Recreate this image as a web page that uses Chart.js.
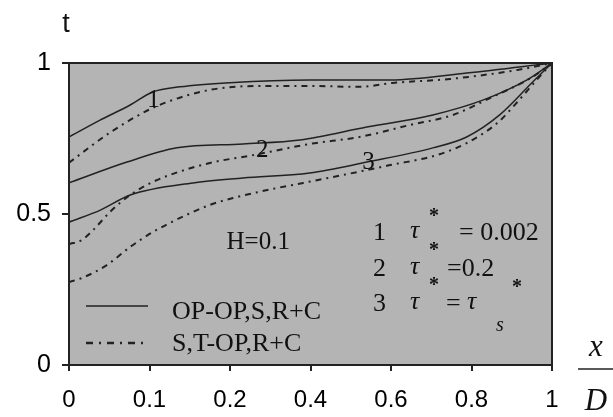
<!DOCTYPE html>
<html>
<head>
<meta charset="utf-8">
<script src="https://cdn.jsdelivr.net/npm/chart.js@4/dist/chart.umd.min.js"></script>
<style>
  html, body { margin: 0; padding: 0; background: #fff; }
  #wrap { width: 613px; height: 417px; position: relative; }
</style>
</head>
<body>
<div id="wrap"><canvas id="tChart" width="613" height="417"></canvas></div>
<script>
// tick labels sit at equal spacing on the original axis (0..6 positions)
const xTickLabels = ['0', '0.1', '0.2', '0.4', '0.6', '0.8', '1'];
const yTickValues = [0, 0.5, 1];

// curve 1, tau* = 0.002
const x1Solid = [0, 0.38, 0.76, 1.04, 1.38, 2.0, 2.99, 3.99, 4.94, 6];
const t1Solid = [0.755, 0.81, 0.861, 0.904, 0.921, 0.935, 0.944, 0.944, 0.967, 1.0];
const x1Dash = [0, 0.5, 0.94, 1.22, 1.75, 2.37, 2.99, 3.61, 4.02, 4.73, 5.57, 6];
const t1Dash = [0.67, 0.768, 0.838, 0.871, 0.911, 0.924, 0.924, 0.921, 0.934, 0.947, 0.977, 1.0];

// curve 2, tau* = 0.2
const x2Solid = [0, 0.72, 1.34, 2.16, 2.87, 3.70, 4.52, 5.14, 5.69, 6];
const t2Solid = [0.603, 0.672, 0.719, 0.732, 0.745, 0.788, 0.828, 0.877, 0.944, 1.0];
const x2Dash = [0, 0.16, 0.3, 0.51, 0.76, 1.04, 1.25, 1.75, 2.29, 2.99, 3.61, 4.24, 4.77, 5.23, 5.76, 6];
const t2Dash = [0.40, 0.414, 0.447, 0.507, 0.563, 0.606, 0.629, 0.669, 0.695, 0.732, 0.755, 0.795, 0.828, 0.884, 0.954, 1.0];

// curve 3, tau* = tau*_s
const x3Solid = [0, 0.39, 0.76, 1.54, 2.16, 2.99, 3.70, 4.52, 4.94, 5.35, 5.76, 6];
const t3Solid = [0.473, 0.513, 0.563, 0.603, 0.619, 0.636, 0.672, 0.719, 0.755, 0.828, 0.937, 1.0];
const x3Dash = [0, 0.16, 0.47, 0.76, 1.04, 1.38, 1.75, 2.04, 2.53, 2.91, 3.40, 3.99, 4.57, 4.94, 5.32, 5.57, 5.81, 6];
const t3Dash = [0.275, 0.288, 0.331, 0.391, 0.440, 0.487, 0.530, 0.553, 0.583, 0.603, 0.629, 0.662, 0.695, 0.735, 0.801, 0.871, 0.944, 1.0];

const legendNames = ['OP-OP,S,R+C', 'S,T-OP,R+C'];

const lineColor = '#222';
const dashPattern = [6, 5, 2, 5];
const serif = '"Liberation Serif", "DejaVu Serif", serif';
const sans = '"Liberation Sans", Arial, sans-serif';

function pts(xs, ys) {
  return xs.map((x, i) => ({ x: x, y: ys[i] }));
}

function series(label, xs, ys, dashed) {
  return {
    label: label,
    data: pts(xs, ys),
    borderColor: lineColor,
    borderWidth: dashed ? 2 : 1.5,
    borderDash: dashed ? dashPattern : [],
    pointRadius: 0,
    fill: false,
    cubicInterpolationMode: 'monotone'
  };
}

const data = {
  datasets: [
    series('1 solid', x1Solid, t1Solid, false),
    series('1 dash', x1Dash, t1Dash, true),
    series('2 solid', x2Solid, t2Solid, false),
    series('2 dash', x2Dash, t2Dash, true),
    series('3 solid', x3Solid, t3Solid, false),
    series('3 dash', x3Dash, t3Dash, true)
  ]
};

// gray plot area, box and all the text drawn on top
const paperPlugin = {
  id: 'paper',
  beforeDraw(chart) {
    const { ctx, chartArea: a } = chart;
    ctx.save();
    ctx.fillStyle = '#b4b4b4';
    ctx.fillRect(a.left, a.top, a.right - a.left, a.bottom - a.top);
    ctx.restore();
  },
  afterDraw(chart) {
    const { ctx, chartArea: a, scales } = chart;
    const xs = scales.x, ys = scales.y;
    ctx.save();
    ctx.strokeStyle = '#222';
    ctx.lineWidth = 2;
    ctx.strokeRect(a.left, a.top, a.right - a.left, a.bottom - a.top);

    ctx.fillStyle = '#111';
    ctx.textBaseline = 'middle';
    ctx.textAlign = 'center';

    // curve numbers
    ctx.font = '25px ' + serif;
    ctx.fillText('1', xs.getPixelForValue(1.05), ys.getPixelForValue(0.877));
    ctx.fillText('2', xs.getPixelForValue(2.40), ys.getPixelForValue(0.71));
    ctx.fillText('3', xs.getPixelForValue(3.72), ys.getPixelForValue(0.672));

    ctx.font = '25px ' + serif;
    ctx.fillText('H=0.1', xs.getPixelForValue(2.35), ys.getPixelForValue(0.405));

    // line-style legend
    ctx.textAlign = 'left';
    ctx.font = '26px ' + serif;
    const lx0 = a.left + 17, lx1 = a.left + 79, tx = a.left + 103;
    const ly1 = ys.getPixelForValue(0.195), ly2 = ys.getPixelForValue(0.073);
    ctx.lineWidth = 1.5;
    ctx.strokeStyle = lineColor;
    ctx.beginPath(); ctx.moveTo(lx0, ly1); ctx.lineTo(lx1, ly1); ctx.stroke();
    ctx.lineWidth = 2.5;
    ctx.setLineDash([7, 6, 2, 6]);
    ctx.beginPath(); ctx.moveTo(lx0, ly2); ctx.lineTo(lx1, ly2); ctx.stroke();
    ctx.setLineDash([]);
    ctx.fillText(legendNames[0], tx, ly1 + 6);
    ctx.fillText(legendNames[1], tx, ly2 + 1);

    // tau legend
    ctx.textBaseline = 'alphabetic';
    ctx.font = '26px ' + serif;
    ctx.fillText('1', 373, 240);
    ctx.fillText('2', 373, 276);
    ctx.fillText('3', 373, 311);
    ctx.font = 'italic 26px ' + serif;
    ctx.fillText('\u03c4', 410, 238);
    ctx.fillText('\u03c4', 410, 274);
    ctx.fillText('\u03c4', 410, 309);
    ctx.font = '26px ' + serif;
    ctx.fillText('= 0.002', 459, 240);
    ctx.fillText('=0.2', 447, 276);
    ctx.fillText('=', 446, 311);
    ctx.font = 'italic 26px ' + serif;
    ctx.fillText('\u03c4', 467, 309);
    ctx.font = 'italic 20px ' + serif;
    ctx.fillText('s', 496, 331);
    ctx.font = 'bold 20px ' + serif;
    ctx.textAlign = 'center';
    ctx.fillText('*', 434, 222);
    ctx.fillText('*', 434, 256);
    ctx.fillText('*', 434, 291);
    ctx.fillText('*', 517, 293);

    // axis titles
    ctx.font = '27px ' + sans;
    ctx.textBaseline = 'middle';
    ctx.fillText('t', 66, 25);
    ctx.font = 'italic 31px ' + serif;
    ctx.fillText('x', 596, 348);
    ctx.fillText('D', 596, 402);
    ctx.lineWidth = 1.5;
    ctx.strokeStyle = '#222';
    ctx.beginPath(); ctx.moveTo(578, 369); ctx.lineTo(613, 369); ctx.stroke();
    ctx.restore();
  }
};

const options = {
  responsive: false,
  animation: false,
  layout: { padding: { top: 63, right: 61, left: 0, bottom: 0 } },
  plugins: {
    legend: { display: false },
    tooltip: { enabled: false }
  },
  scales: {
    x: {
      type: 'linear',
      min: 0,
      max: 6,
      afterFit: (s) => { s.height = 52; },
      afterBuildTicks: (s) => { s.ticks = xTickLabels.map((_, i) => ({ value: i })); },
      border: { display: false },
      grid: { drawOnChartArea: false, tickLength: 6, color: '#222', lineWidth: 2 },
      ticks: {
        color: '#000',
        font: { family: sans, size: 24 },
        padding: 15,
        maxRotation: 0,
        callback: (v) => xTickLabels[v]
      }
    },
    y: {
      min: 0,
      max: 1,
      afterFit: (s) => { s.width = 69; },
      afterBuildTicks: (s) => { s.ticks = yTickValues.map(v => ({ value: v })); },
      border: { display: false },
      grid: { drawOnChartArea: false, tickLength: 7, color: '#222', lineWidth: 2 },
      ticks: {
        color: '#000',
        font: { family: sans, size: 25 },
        padding: 11,
        callback: (v) => String(v)
      }
    }
  }
};

Chart.defaults.font.family = sans;
new Chart(document.getElementById('tChart'), {
  type: 'line',
  data,
  options,
  plugins: [paperPlugin]
});
</script>
</body>
</html>
